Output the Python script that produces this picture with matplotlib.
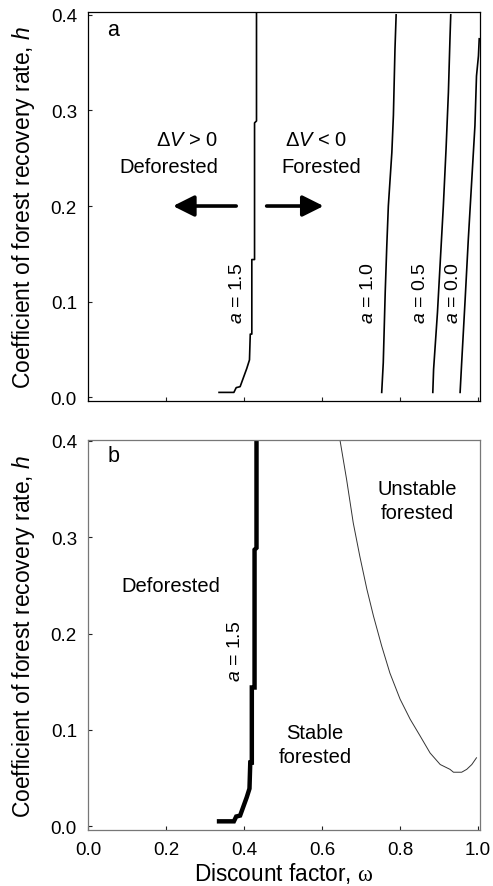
import matplotlib
matplotlib.use("Agg")
import matplotlib.pyplot as plt

plt.rcParams['font.family'] = ['Liberation Sans', 'DejaVu Sans']
plt.rcParams['mathtext.fontset'] = 'custom'
plt.rcParams['mathtext.rm'] = 'Liberation Serif'
plt.rcParams['mathtext.it'] = 'Liberation Sans:italic'

# ---- data ----
# a = 1.5 boundary (panels a and b)
w_a15 = [0.336, 0.374, 0.380, 0.390, 0.407, 0.414, 0.416, 0.420, 0.420, 0.427, 0.427, 0.432, 0.432]
h_a15 = [0.005, 0.005, 0.010, 0.011, 0.030, 0.039, 0.066, 0.066, 0.144, 0.144, 0.287, 0.289, 0.41]
# a = 1.0
w_a10 = [0.753, 0.757, 0.762, 0.766, 0.770, 0.779, 0.783, 0.787, 0.790]
h_a10 = [0.005, 0.036, 0.110, 0.158, 0.200, 0.256, 0.295, 0.364, 0.400]
# a = 0.5
w_a05 = [0.884, 0.886, 0.896, 0.903, 0.911, 0.918, 0.924, 0.928, 0.930]
h_a05 = [0.005, 0.029, 0.089, 0.141, 0.200, 0.260, 0.319, 0.375, 0.400]
# a = 0.0
w_a00 = [0.954, 0.958, 0.967, 0.975, 0.984, 0.992, 0.996, 1.001, 1.003]
h_a00 = [0.005, 0.036, 0.103, 0.165, 0.228, 0.284, 0.336, 0.357, 0.375]
# stability boundary (panel b)
w_stab = [0.640, 0.646, 0.663, 0.680, 0.697, 0.715, 0.732, 0.753, 0.774, 0.800,
          0.826, 0.851, 0.877, 0.903, 0.928, 0.937, 0.958, 0.971, 0.984, 0.996]
h_stab = [0.415, 0.401, 0.360, 0.315, 0.280, 0.246, 0.218, 0.187, 0.159, 0.132,
          0.111, 0.094, 0.076, 0.064, 0.059, 0.056, 0.056, 0.059, 0.064, 0.071]

xticks = [0.0, 0.2, 0.4, 0.6, 0.8, 1.0]
yticks = [0.0, 0.1, 0.2, 0.3, 0.4]
xtick_labels = ['0.0', '0.2', '0.4', '0.6', '0.8', '1.0']
ytick_labels = ['0.0', '0.1', '0.2', '0.3', '0.4']

W, H = 493, 887
fig = plt.figure(figsize=(W / 100, H / 100), dpi=100)

def px_rect(l, t, r, b):
    return [l / W, 1 - b / H, (r - l) / W, (b - t) / H]

ax1 = fig.add_axes(px_rect(88, 13, 480, 402))
ax2 = fig.add_axes(px_rect(88, 441, 480, 831))

fs = 14.5   # annotation text
tfs = 13.5  # tick labels
lfs = 16.5  # axis labels
for ax in (ax1, ax2):
    ax.set_xlim(0, 1.005)
    ax.set_xticks(xticks)
    ax.set_yticks(yticks)
    ax.set_yticklabels(ytick_labels, fontsize=tfs)
    ax.tick_params(direction='in', length=3, width=0.8, pad=8, colors='#222222', labelcolor='black')
    ax.set_ylabel('Coefficient of forest recovery rate, $h$', fontsize=lfs)
    ax.yaxis.set_label_coords(-0.13, 0.5)
    for s in ax.spines.values():
        s.set_linewidth(0.9)

ax1.set_ylim(-0.004, 0.403)
ax2.set_ylim(-0.004, 0.401)
ax1.set_xticklabels([])
ax2.set_xticklabels(xtick_labels, fontsize=tfs)
for s in ax2.spines.values():
    s.set_color('#777777')
ax2.set_xlabel(r'Discount factor, $\mathrm{\omega}$', fontsize=16.3)
ax2.xaxis.set_label_coords(0.5, -0.078)

# ---- panel a ----
for w, h in ((w_a15, h_a15), (w_a10, h_a10), (w_a05, h_a05), (w_a00, h_a00)):
    ax1.plot(w, h, color='black', lw=1.2)

ax1.text(0.05, 0.385, 'a', fontsize=15.5, ha='left', va='center')
ax1.text(0.255, 0.270, 'Δ$V$ > 0', fontsize=fs, ha='center', va='center')
ax1.text(0.207, 0.241, 'Deforested', fontsize=fs, ha='center', va='center')
ax1.text(0.585, 0.270, 'Δ$V$ < 0', fontsize=fs, ha='center', va='center')
ax1.text(0.597, 0.241, 'Forested', fontsize=fs, ha='center', va='center')
ax1.annotate('', xy=(0.218, 0.2), xytext=(0.380, 0.2),
             arrowprops=dict(arrowstyle='-|>', lw=2.6, color='black',
                             mutation_scale=32, shrinkA=0, shrinkB=0))
ax1.annotate('', xy=(0.604, 0.2), xytext=(0.458, 0.2),
             arrowprops=dict(arrowstyle='-|>', lw=2.6, color='black',
                             mutation_scale=32, shrinkA=0, shrinkB=0))
for x, lab in ((0.383, '$a$ = 1.5'), (0.719, '$a$ = 1.0'), (0.853, '$a$ = 0.5'), (0.938, '$a$ = 0.0')):
    ax1.text(x, 0.11, lab, fontsize=14, rotation=90, ha='center', va='center')

# ---- panel b ----
ax2.plot(w_a15, h_a15, color='black', lw=3.2, solid_joinstyle='miter')
ax2.plot(w_stab, h_stab, color='#333333', lw=0.7)
ax2.text(0.05, 0.385, 'b', fontsize=15.5, ha='left', va='center')
ax2.text(0.212, 0.250, 'Deforested', fontsize=fs, ha='center', va='center')
ax2.text(0.377, 0.183, '$a$ = 1.5', fontsize=14, rotation=90, ha='center', va='center')
ax2.text(0.582, 0.085, 'Stable\nforested', fontsize=fs, ha='center', va='center', linespacing=1.32)
ax2.text(0.845, 0.338, 'Unstable\nforested', fontsize=fs, ha='center', va='center', linespacing=1.32)

fig.savefig('out.png', dpi=100)
